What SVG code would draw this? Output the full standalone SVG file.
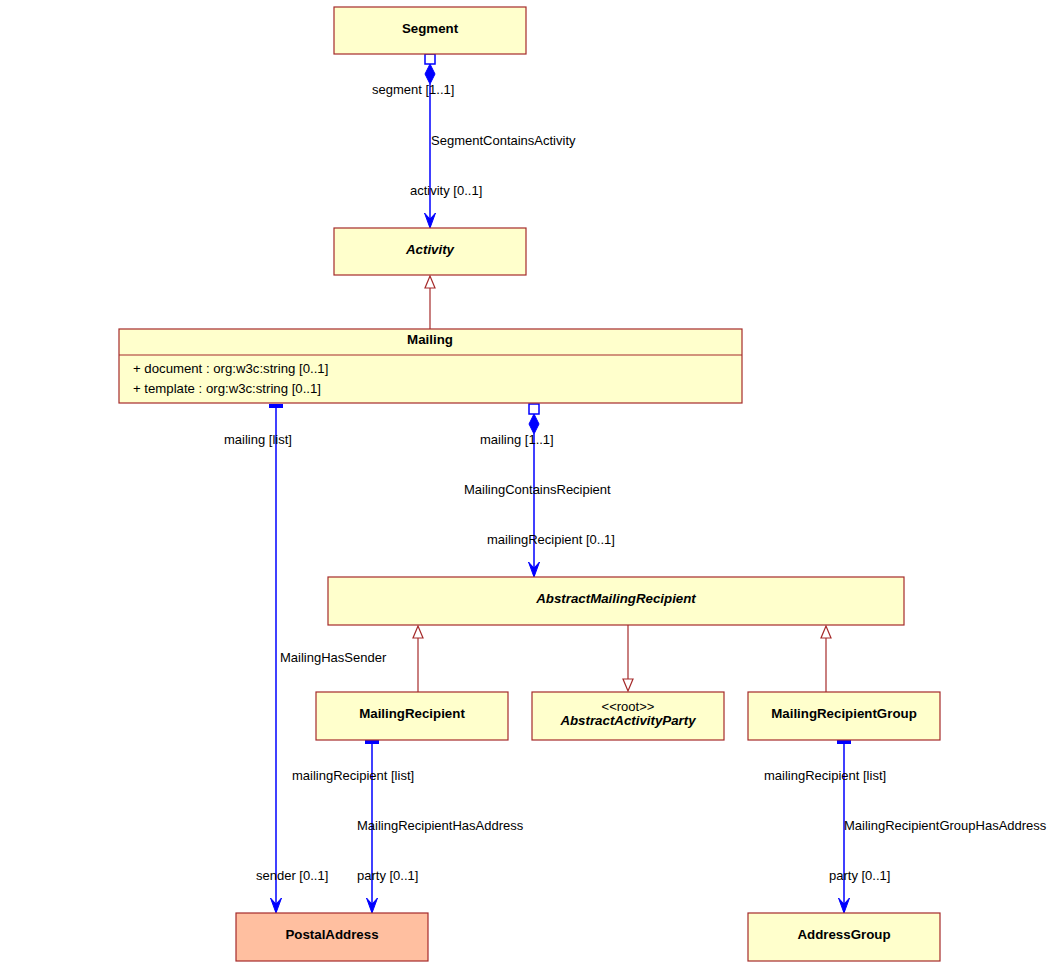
<svg xmlns="http://www.w3.org/2000/svg" width="1051" height="968" viewBox="0 0 1051 968">
<style>
.box{fill:#FFFFCC;stroke:#A52A2A;stroke-width:1.2}
.pa{fill:#FFBFA0;stroke:#A52A2A;stroke-width:1.2}
.nm{font-family:"Liberation Sans",Arial,sans-serif;font-size:13.3px;font-weight:bold;text-anchor:middle;fill:#000}
.it{font-style:italic}
.st{font-family:"Liberation Sans",Arial,sans-serif;font-size:13px;text-anchor:middle;fill:#000}
.at{font-family:"Liberation Sans",Arial,sans-serif;font-size:13.2px;fill:#000}
.lb{font-family:"Liberation Sans",Arial,sans-serif;font-size:13px;fill:#000}
.as{stroke:#0000FF;stroke-width:1.5;fill:none}
.gn{stroke:#A52A2A;stroke-width:1.2;fill:none}
.ah{fill:#0000FF;stroke:#0000FF}
.tr{fill:#FFFFFF;stroke:#A52A2A;stroke-width:1.2}
.sq{fill:#FFFFFF;stroke:#0000FF;stroke-width:1.5}
</style>
<rect width="1051" height="968" fill="#FFFFFF"/>

<g id="connectors">
<!-- Segment -> Activity -->
<line class="as" x1="430" y1="84" x2="430" y2="227"/>
<rect class="sq" x="425" y="54" width="10" height="10"/>
<path class="ah" d="M430,64 L435,74 L430,84 L425,74 Z"/>
<path class="ah" d="M430,228 L424.5,213 L430,219 L435.5,213 Z"/>
<text class="lb" x="372" y="94">segment [1..1]</text>
<text class="lb" x="431" y="145">SegmentContainsActivity</text>
<text class="lb" x="410" y="195">activity [0..1]</text>

<!-- Mailing -> Activity generalization -->
<line class="gn" x1="430" y1="329" x2="430" y2="288"/>
<path class="tr" d="M430,276 L425,288 L435,288 Z"/>

<!-- Mailing -> PostalAddress -->
<rect x="269" y="404" width="14" height="4" fill="#0000FF"/>
<line class="as" x1="276" y1="408" x2="276" y2="912"/>
<path class="ah" d="M276,913 L270.5,898 L276,904 L281.5,898 Z"/>
<text class="lb" x="224" y="444">mailing [list]</text>
<text class="lb" x="280" y="662">MailingHasSender</text>
<text class="lb" x="256" y="880">sender [0..1]</text>

<!-- Mailing -> AbstractMailingRecipient -->
<line class="as" x1="534" y1="434" x2="534" y2="576"/>
<rect class="sq" x="529" y="404" width="10" height="10"/>
<path class="ah" d="M534,414 L539,424 L534,434 L529,424 Z"/>
<path class="ah" d="M534,577 L528.5,562 L534,568 L539.5,562 Z"/>
<text class="lb" x="480" y="444">mailing [1..1]</text>
<text class="lb" x="464" y="494">MailingContainsRecipient</text>
<text class="lb" x="487" y="544">mailingRecipient [0..1]</text>

<!-- generalizations -->
<line class="gn" x1="418" y1="692" x2="418" y2="638"/>
<path class="tr" d="M418,626 L413,638 L423,638 Z"/>
<line class="gn" x1="628" y1="625" x2="628" y2="679"/>
<path class="tr" d="M628,691 L623,679 L633,679 Z"/>
<line class="gn" x1="826" y1="692" x2="826" y2="638"/>
<path class="tr" d="M826,626 L821,638 L831,638 Z"/>

<!-- MailingRecipient -> PostalAddress -->
<rect x="365" y="740" width="14" height="4" fill="#0000FF"/>
<line class="as" x1="372" y1="744" x2="372" y2="912"/>
<path class="ah" d="M372,913 L366.5,898 L372,904 L377.5,898 Z"/>
<text class="lb" x="292" y="780">mailingRecipient [list]</text>
<text class="lb" x="357" y="830">MailingRecipientHasAddress</text>
<text class="lb" x="357" y="880">party [0..1]</text>

<!-- MailingRecipientGroup -> AddressGroup -->
<rect x="837" y="740" width="14" height="4" fill="#0000FF"/>
<line class="as" x1="844" y1="744" x2="844" y2="912"/>
<path class="ah" d="M844,913 L838.5,898 L844,904 L849.5,898 Z"/>
<text class="lb" x="764" y="780">mailingRecipient [list]</text>
<text class="lb" x="844" y="830">MailingRecipientGroupHasAddress</text>
<text class="lb" x="829" y="880">party [0..1]</text>
</g>

<g id="Segment">
<rect class="box" x="334" y="7" width="192" height="47"/>
<text class="nm" x="430" y="33">Segment</text>
</g>
<g id="Activity">
<rect class="box" x="334" y="228" width="192" height="47"/>
<text class="nm it" x="430" y="254">Activity</text>
</g>
<g id="Mailing">
<rect class="box" x="119" y="329" width="623" height="74"/>
<line x1="119" y1="355" x2="742" y2="355" stroke="#A52A2A" stroke-width="1.2"/>
<text class="nm" x="430" y="344">Mailing</text>
<text class="at" x="133" y="373">+ document : org:w3c:string [0..1]</text>
<text class="at" x="133" y="393">+ template : org:w3c:string [0..1]</text>
</g>
<g id="AbstractMailingRecipient">
<rect class="box" x="328" y="577" width="576" height="48"/>
<text class="nm it" x="616" y="603">AbstractMailingRecipient</text>
</g>
<g id="MailingRecipient">
<rect class="box" x="316" y="692" width="192" height="48"/>
<text class="nm" x="412" y="718">MailingRecipient</text>
</g>
<g id="AbstractActivityParty">
<rect class="box" x="532" y="692" width="192" height="48"/>
<text class="st" x="628" y="711">&lt;&lt;root&gt;&gt;</text>
<text class="nm it" x="628" y="725">AbstractActivityParty</text>
</g>
<g id="MailingRecipientGroup">
<rect class="box" x="748" y="692" width="192" height="48"/>
<text class="nm" x="844" y="718">MailingRecipientGroup</text>
</g>
<g id="PostalAddress">
<rect class="pa" x="236" y="913" width="192" height="48"/>
<text class="nm" x="332" y="939">PostalAddress</text>
</g>
<g id="AddressGroup">
<rect class="box" x="748" y="913" width="192" height="48"/>
<text class="nm" x="844" y="939">AddressGroup</text>
</g>
</svg>
